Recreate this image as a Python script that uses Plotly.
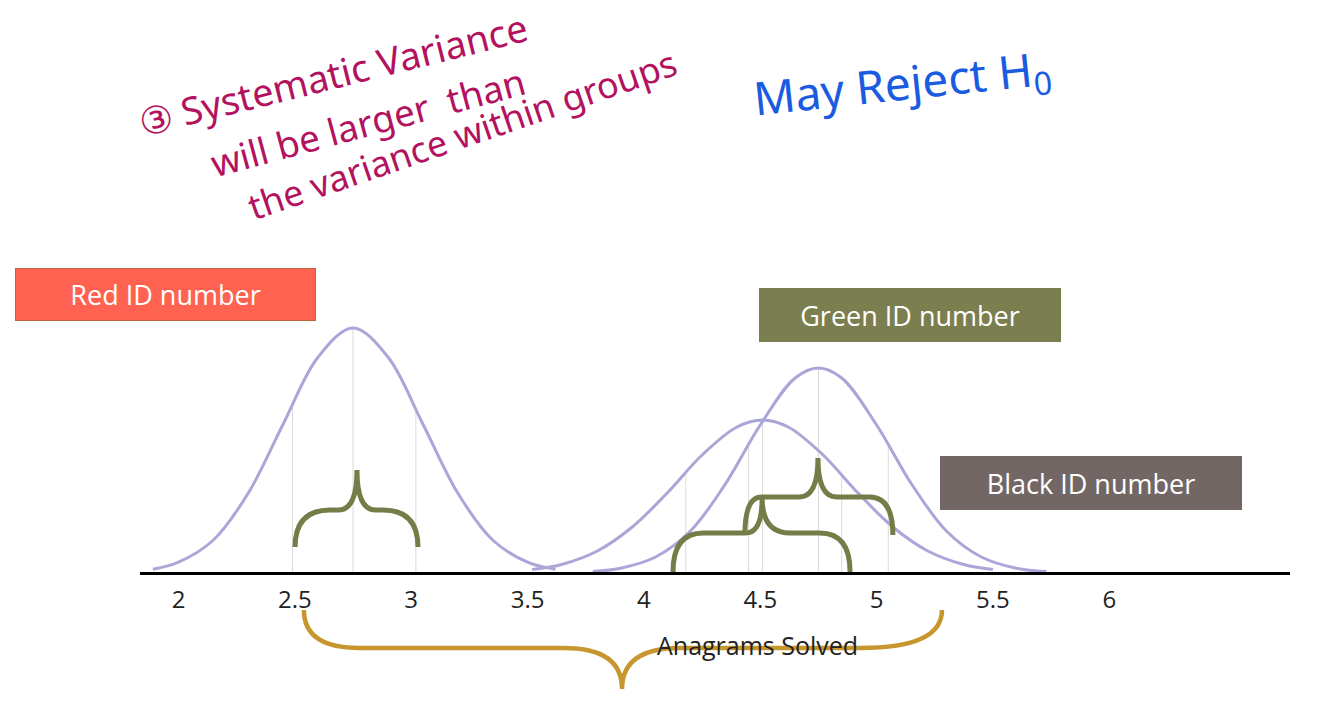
import plotly.graph_objects as go

# ---------------- data ----------------
tick_vals = [2, 2.5, 3, 3.5, 4, 4.5, 5, 5.5, 6]
tick_text = ["2", "2.5", "3", "3.5", "4", "4.5", "5", "5.5", "6"]

# Red ID number distribution
red_x = [1.89, 2.0, 2.15, 2.3, 2.45, 2.6, 2.75, 2.9, 3.05, 3.2, 3.35, 3.5, 3.62]
red_y = [0.037, 0.108, 0.33, 0.80, 1.49, 2.16, 2.45, 2.16, 1.49, 0.80, 0.33, 0.108, 0.037]

# Green ID number distribution
green_x = [3.78, 3.9, 4.05, 4.2, 4.35, 4.5, 4.65, 4.75, 4.85, 5.0, 5.15, 5.3, 5.45, 5.6, 5.73]
green_y = [0.015, 0.048, 0.16, 0.42, 0.89, 1.48, 1.95, 2.05, 1.95, 1.48, 0.89, 0.42, 0.16, 0.048, 0.015]

# Black ID number distribution
black_x = [3.52, 3.65, 3.8, 3.95, 4.1, 4.25, 4.4, 4.51, 4.62, 4.77, 4.92, 5.07, 5.22, 5.37, 5.5]
black_y = [0.035, 0.088, 0.22, 0.46, 0.80, 1.18, 1.46, 1.53, 1.46, 1.18, 0.80, 0.46, 0.22, 0.088, 0.035]

# thin vertical marker lines (mean and spread) under each curve
red_marks_x = [2.49, 2.75, 3.02]
red_marks_top = [1.68, 2.45, 1.63]
green_marks_x = [4.45, 4.75, 5.05]
green_marks_top = [1.28, 2.05, 1.28]
black_marks_x = [4.18, 4.51, 4.85]
black_marks_top = [1.00, 1.53, 0.98]

# ---------------- styling ----------------
LAV = "#ABA6D8"
OLIVE = "#767C48"
GOLD = "#C8962E"
GRID = "#DADADA"
MAGENTA = "#B3125F"
BLUE = "#1A5BE0"

W, H = 1334, 703
ML, MR = 140, 44
PX0, PXU = 643.9, 232.7   # pixel of x=4, pixels per unit
x_lo = 4 + (ML - PX0) / PXU
x_hi = 4 + (W - MR - PX0) / PXU
BASE_PX = 573             # pixel row of the axis line
y_lo = -(H - BASE_PX) / 100.0
y_hi = BASE_PX / 100.0


def px_to_paper(px, py):
    return (px - ML) / (W - ML - MR), (H - py) / H


fig = go.Figure()


def marks(xs, tops):
    xx, yy = [], []
    for x, t in zip(xs, tops):
        xx += [x, x, None]
        yy += [0, t, None]
    return xx, yy


for xs, tops in [(red_marks_x, red_marks_top), (green_marks_x, green_marks_top),
                 (black_marks_x, black_marks_top)]:
    mx, my = marks(xs, tops)
    fig.add_trace(go.Scatter(x=mx, y=my, mode="lines", line=dict(color=GRID, width=1),
                             hoverinfo="skip", showlegend=False))

for xs, ys, nm in [(red_x, red_y, "Red"), (black_x, black_y, "Black"), (green_x, green_y, "Green")]:
    fig.add_trace(go.Scatter(x=xs, y=ys, mode="lines", name=nm,
                             line=dict(color=LAV, width=3, shape="spline", smoothing=1.0),
                             showlegend=False))


def brace(L, R, T, yb, ym, yt, rl, rr, rtl, rtr):
    return (f"M {L},{yb} Q {L},{ym} {L + rl},{ym} L {T - rtl},{ym} "
            f"Q {T},{ym} {T},{yt} Q {T},{ym} {T + rtr},{ym} "
            f"L {R - rr},{ym} Q {R},{ym} {R},{yb}")


shapes = [
    dict(type="path", xref="x", yref="y", line=dict(color=OLIVE, width=5),
         fillcolor="rgba(0,0,0,0)",
         path=brace(2.501, 3.029, 2.767, 0.26, 0.63, 1.03, 0.15, 0.15, 0.08, 0.08)),
    dict(type="path", xref="x", yref="y", line=dict(color=OLIVE, width=5),
         fillcolor="rgba(0,0,0,0)",
         path=brace(4.125, 4.886, 4.508, 0.01, 0.40, 0.75, 0.13, 0.13, 0.07, 0.12)),
    dict(type="path", xref="x", yref="y", line=dict(color=OLIVE, width=5),
         fillcolor="rgba(0,0,0,0)",
         path=brace(4.434, 5.070, 4.748, 0.38, 0.76, 1.15, 0.07, 0.10, 0.08, 0.08)),
    dict(type="path", xref="x", yref="y", line=dict(color=GOLD, width=4.5),
         fillcolor="rgba(0,0,0,0)",
         path=brace(2.539, 5.281, 3.906, -0.37, -0.75, -1.16, 0.24, 0.35, 0.25, 0.25)),
]

annotations = []


def box(text, x0, y0, x1, y1, fill, border):
    cx, cy = px_to_paper((x0 + x1) / 2, (y0 + y1) / 2)
    annotations.append(dict(text=text, xref="paper", yref="paper", x=cx, y=cy,
                            xanchor="center", yanchor="middle", showarrow=False,
                            width=x1 - x0 - 2, height=y1 - y0 - 2, bgcolor=fill,
                            bordercolor=border, borderwidth=1, borderpad=0,
                            font=dict(family="Open Sans", size=27, color="white")))


box("Red ID number", 15, 268, 316, 321, "#FF6250", "#C0643C")
box("Green ID number", 759, 288, 1061, 342, "#7B7E4E", "#7B7E4E")
box("Black ID number", 940, 456, 1242, 510, "#736766", "#736766")


def hand(text, px, py, angle, size, color):
    cx, cy = px_to_paper(px, py)
    annotations.append(dict(text=text, xref="paper", yref="paper", x=cx, y=cy,
                            xanchor="center", yanchor="middle", showarrow=False,
                            textangle=angle,
                            font=dict(family="Noto Sans", size=size, color=color)))


hand("③ Systematic Variance", 332, 74, -14, 38, MAGENTA)
hand("will be larger  than", 368, 122, -15, 37, MAGENTA)
hand("the variance within groups", 462, 134, -19, 36, MAGENTA)
hand("May Reject H<sub>0</sub>", 902, 85, -6, 46, BLUE)

# axis title
tx, ty = px_to_paper(757, 645)
annotations.append(dict(text="Anagrams Solved", xref="paper", yref="paper", x=tx, y=ty,
                        xanchor="center", yanchor="middle", showarrow=False,
                        font=dict(family="Open Sans", size=25, color="#222222")))

fig.update_layout(
    width=W, height=H,
    margin=dict(l=ML, r=MR, t=0, b=0, pad=0),
    paper_bgcolor="white", plot_bgcolor="white",
    showlegend=False,
    shapes=shapes,
    annotations=annotations,
    xaxis=dict(range=[x_lo, x_hi], tickvals=tick_vals, ticktext=tick_text,
               showgrid=False, zeroline=False, showline=True, linecolor="black",
               linewidth=3, ticks="", anchor="free", position=(H - BASE_PX) / H,
               tickfont=dict(family="Open Sans", size=24, color="#222222"),
               ticklabelstandoff=4, fixedrange=True),
    yaxis=dict(range=[y_lo, y_hi], visible=False, showgrid=False, zeroline=False,
               fixedrange=True),
)

fig.write_html("out.html", config={"displayModeBar": False},
               post_script="document.body.style.margin='0px';document.body.style.overflow='hidden';")
